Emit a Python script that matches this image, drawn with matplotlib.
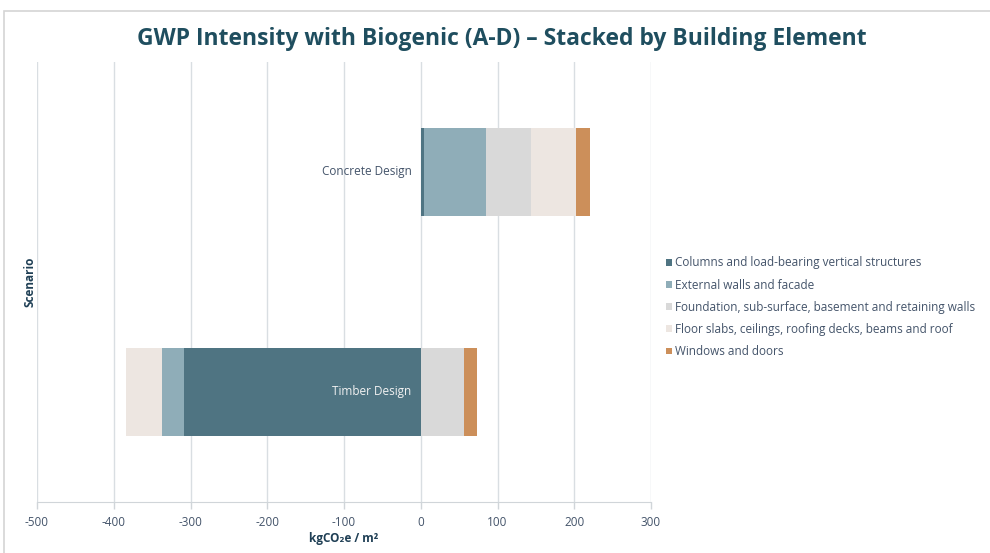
import matplotlib.pyplot as plt
import numpy as np
from matplotlib.patches import Rectangle

# kgCO2e / m2 per building element, by scenario
scenarios = ['Concrete Design', 'Timber Design']
elements = ['Columns and load-bearing vertical structures',
            'External walls and facade',
            'Foundation, sub-surface, basement and retaining walls',
            'Floor slabs, ceilings, roofing decks, beams and roof',
            'Windows and doors']
concrete = [4, 81, 58, 59, 19]
timber = [-309, -28, 56, -47, 17]
colors = ['#4f7482', '#8fadb8', '#d9d9d9', '#ede6e1', '#cc8f5a']

values = np.array([concrete, timber])

plt.rcParams['font.family'] = ['Open Sans', 'DejaVu Sans']
plt.rcParams['axes.unicode_minus'] = False

fig = plt.figure(figsize=(9.9, 5.53), dpi=100)
ax = fig.add_axes([0.0374, 0.0922, 0.6202, 0.7958])

# Excel-style stacking: positives and negatives pile up separately
ypos = np.arange(len(scenarios))
pos_base = np.zeros(len(scenarios))
neg_base = np.zeros(len(scenarios))
for i, name in enumerate(elements):
    v = values[:, i]
    left = np.where(v >= 0, pos_base, neg_base)
    ax.barh(ypos, v, left=left, height=0.4, color=colors[i], label=name, zorder=3)
    pos_base += np.where(v >= 0, v, 0)
    neg_base += np.where(v < 0, v, 0)

ax.set_xlim(-500, 300)
ax.set_ylim(1.5, -0.5)
ax.set_xticks(np.arange(-500, 301, 100))
ax.tick_params(axis='x', colors='#d0d5d9', labelcolor='#44546a', labelsize=8.5,
               length=5, width=1, pad=5)
ax.set_yticks([])
ax.grid(axis='x', color='#d9dee2', linewidth=1, zorder=0)
for s in ['top', 'right', 'left']:
    ax.spines[s].set_visible(False)
ax.spines['bottom'].set_color('#d0d5d9')

# category names sit next to the zero line
for y, name in zip(ypos, scenarios):
    ax.text(-12, y, name, ha='right', va='center', fontsize=8.5,
            color='#44546a' if y == 0 else '#f2f2f2', zorder=4)

ax.set_xlabel('kgCO₂e / m²', fontsize=8.5, fontweight='bold', color='#1f3f55',
              labelpad=2)
fig.text(0.03, 0.49, 'Scenario', rotation=90, ha='center', va='center',
         fontsize=8.5, fontweight='bold', color='#1f3f55')

fig.text(0.507, 0.93, 'GWP Intensity with Biogenic (A-D) – Stacked by Building Element',
         ha='center', va='center', fontsize=16.5, fontweight='bold', color='#1f4e5f')

leg = fig.legend(loc='upper left', bbox_to_anchor=(0.668, 0.545), frameon=False,
                 fontsize=8.5, handlelength=0.5, handleheight=0.5, handletextpad=0.3,
                 labelspacing=0.78, borderaxespad=0)
for t in leg.get_texts():
    t.set_color('#44546a')

# outer chart frame
fig.patches.append(Rectangle((0.004, -0.01), 1.0, 0.99, transform=fig.transFigure,
                             fill=False, edgecolor='#d4d4d4', linewidth=1.2))

fig.savefig('out.png', dpi=100)
